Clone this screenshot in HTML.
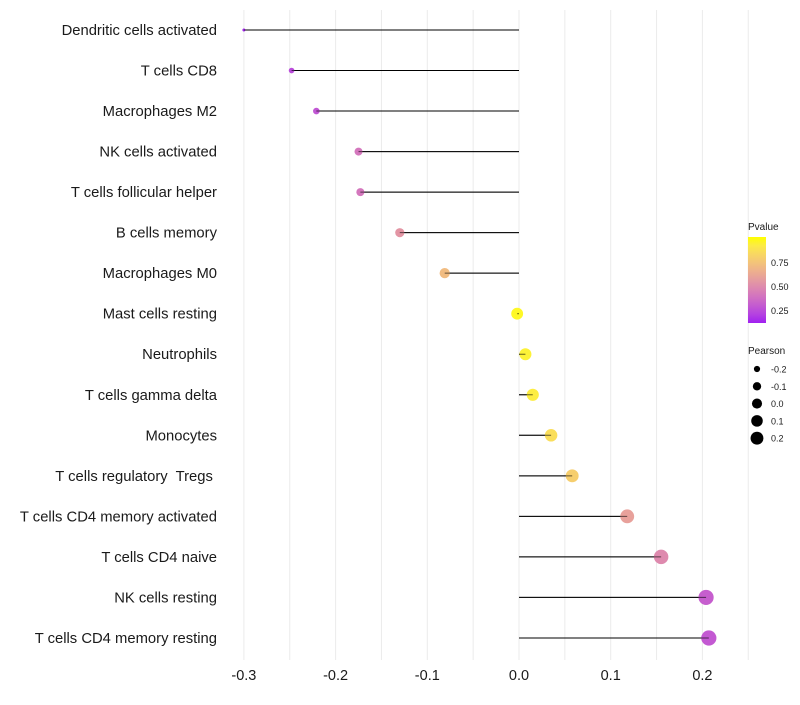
<!DOCTYPE html>
<html><head><meta charset="utf-8"><style>
body{margin:0;background:#fff;font-family:"Liberation Sans",sans-serif}
text{white-space:pre}
</style></head><body>
<svg id="chart" width="800" height="700" xmlns="http://www.w3.org/2000/svg">
<defs><linearGradient id="pg" x1="0" y1="1" x2="0" y2="0"></linearGradient></defs>
<g id="grid"></g>
<g id="marks"></g>
<g id="ylabels"></g>
<g id="xlabels"></g>
<g font-size="10" fill="#1a1a1a">
<text x="748" y="230" font-size="10">Pvalue</text>
<rect x="748" y="237" width="18" height="86" fill="url(#pg)"/>
<text x="771" y="266" font-size="9">0.75</text><text x="771" y="290" font-size="9">0.50</text><text x="771" y="314" font-size="9">0.25</text>
</g>
<g id="sizeleg" font-size="9" fill="#1a1a1a">
<text x="748" y="354" font-size="10">Pearson</text>
</g>
</svg>
<script>
const categories=["Dendritic cells activated","T cells CD8","Macrophages M2","NK cells activated","T cells follicular helper","B cells memory","Macrophages M0","Mast cells resting","Neutrophils","T cells gamma delta","Monocytes","T cells regulatory  Tregs ","T cells CD4 memory activated","T cells CD4 naive","NK cells resting","T cells CD4 memory resting"];
const pearson=[-0.300,-0.248,-0.221,-0.175,-0.173,-0.130,-0.081,-0.002,0.007,0.015,0.035,0.058,0.118,0.155,0.204,0.207];
const pvalue=[0.14,0.25,0.29,0.42,0.42,0.55,0.72,0.99,0.96,0.94,0.87,0.8,0.6,0.5,0.32,0.3];
const xTicks=[-0.3,-0.2,-0.1,0.0,0.1,0.2];
const xTickLabels=["-0.3","-0.2","-0.1","0.0","0.1","0.2"];
const sizeLegendVals=[-0.2,-0.1,0.0,0.1,0.2];
const NS="http://www.w3.org/2000/svg";
const x=v=>519+v*917;
const y=i=>30+i*40.53;
const rad=v=>Math.sqrt(Math.max(2.25,2.25+110*(v+0.3)));
const PMIN=0.125,PMAX=1.02;
function toLin(c){c/=255;return c<=0.04045?c/12.92:Math.pow((c+0.055)/1.055,2.4);}
function fromLin(c){c=c<=0.0031308?12.92*c:1.055*Math.pow(c,1/2.4)-0.055;return Math.round(Math.min(1,Math.max(0,c))*255);}
function rgb2lab(r,g,b){r=toLin(r);g=toLin(g);b=toLin(b);
 let X=(0.4124*r+0.3576*g+0.1805*b)/0.95047,Y=0.2126*r+0.7152*g+0.0722*b,Z=(0.0193*r+0.1192*g+0.9505*b)/1.08883;
 const f=t=>t>0.008856?Math.cbrt(t):7.787*t+16/116;X=f(X);Y=f(Y);Z=f(Z);
 return [116*Y-16,500*(X-Y),200*(Y-Z)];}
function lab2rgb(L,a,b){let Y=(L+16)/116,X=a/500+Y,Z=Y-b/200;
 const fi=t=>t*t*t>0.008856?t*t*t:(t-16/116)/7.787;X=fi(X)*0.95047;Y=fi(Y);Z=fi(Z)*1.08883;
 return [fromLin(3.2406*X-1.5372*Y-0.4986*Z),fromLin(-0.9689*X+1.8758*Y+0.0415*Z),fromLin(0.0557*X-0.2040*Y+1.0570*Z)];}
const LA=rgb2lab(160,32,240),LB=rgb2lab(255,255,0);
function colT(t){t=Math.min(1,Math.max(0,t));const c=lab2rgb(...LA.map((v,i)=>v+(LB[i]-v)*t));return `rgb(${c})`;}
function col(p){return colT((p-PMIN)/(PMAX-PMIN));}
function mk(tag,attrs,parent){const e=document.createElementNS(NS,tag);for(const k in attrs)e.setAttribute(k,attrs[k]);parent.appendChild(e);return e;}
const pg=document.getElementById('pg');
for(let k=0;k<=10;k++){mk('stop',{offset:k/10,'stop-color':colT(k/10)},pg);}
const grid=document.getElementById('grid'),marks=document.getElementById('marks'),yl=document.getElementById('ylabels'),xl=document.getElementById('xlabels');
for(let v=-0.3;v<=0.251;v+=0.05){const l=mk('line',{x1:x(v),x2:x(v),y1:10,y2:660,stroke:'#ebebeb','stroke-width':1},grid);

}
xTicks.forEach((v,i)=>{const t=mk('text',{x:x(v),y:680,'text-anchor':'middle','font-size':14.5,fill:'#1a1a1a'},xl);t.textContent=xTickLabels[i];

});
categories.forEach((c,i)=>{
 const t=mk('text',{x:217,y:y(i)+5,'text-anchor':'end','font-size':14.8,fill:'#1a1a1a'},yl);t.textContent=c;
 
 
 const l=mk('line',{x1:x(0),x2:x(pearson[i]),y1:y(i),y2:y(i),stroke:'#000','stroke-width':1},marks);
 
 
 const d=mk('circle',{cx:x(pearson[i]),cy:y(i),r:rad(pearson[i]),fill:col(pvalue[i])},marks);
 
 
 const s=mk('line',{x1:x(0),x2:x(pearson[i]),y1:y(i),y2:y(i),stroke:'#000','stroke-width':1,'stroke-opacity':0.6},marks);
 
 
});
const sl=document.getElementById('sizeleg');
sizeLegendVals.forEach((v,i)=>{const cy=369+i*17.3;
 const d=mk('circle',{cx:757,cy:cy,r:rad(v)*0.85,fill:'#000'},sl);
 
 
 const t=mk('text',{x:771,y:cy+3.5},sl);t.textContent=v.toFixed(1);
 
 });
</script>
</body></html>
